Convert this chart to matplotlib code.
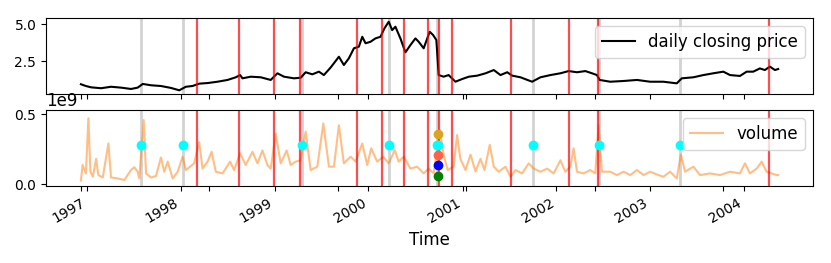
import numpy as np
import pandas as pd
import matplotlib
matplotlib.use('Agg')
import matplotlib.pyplot as plt
import matplotlib.dates as mdates
from matplotlib.ticker import FixedLocator

plt.rcParams['font.size'] = 12

# closing price (decimal year, price)
price_t = [1996.936, 1996.989, 1997.043, 1997.149, 1997.255, 1997.362, 1997.468, 1997.539,
           1997.593, 1997.681, 1997.787, 1997.894, 1997.982, 1998.053, 1998.124, 1998.195,
           1998.284, 1998.390, 1998.497, 1998.585, 1998.631, 1998.656, 1998.745, 1998.851,
           1998.957, 1999.029, 1999.099, 1999.205, 1999.277, 1999.330, 1999.401, 1999.471,
           1999.524, 1999.596, 1999.684, 1999.737, 1999.790, 1999.844, 1999.897, 1999.933,
           1999.968, 2000.021, 2000.074, 2000.128, 2000.170, 2000.216, 2000.252, 2000.287,
           2000.340, 2000.394, 2000.447, 2000.500, 2000.535, 2000.588, 2000.652, 2000.688,
           2000.723, 2000.748, 2000.801, 2000.854, 2000.926, 2000.997, 2001.067, 2001.156,
           2001.245, 2001.333, 2001.404, 2001.476, 2001.529, 2001.617, 2001.741, 2001.830,
           2001.936, 2002.043, 2002.131, 2002.220, 2002.309, 2002.380, 2002.433, 2002.461,
           2002.574, 2002.716, 2002.859, 2003.000, 2003.141, 2003.284, 2003.337, 2003.461,
           2003.567, 2003.673, 2003.780, 2003.851, 2003.957, 2004.029, 2004.099, 2004.170,
           2004.223, 2004.277, 2004.330, 2004.365]
price = [0.93, 0.81, 0.72, 0.66, 0.76, 0.70, 0.61, 0.70,
         0.95, 0.86, 0.81, 0.68, 0.52, 0.76, 0.81, 0.97,
         1.01, 1.10, 1.22, 1.40, 1.55, 1.33, 1.44, 1.40,
         1.22, 1.67, 1.44, 1.33, 1.37, 1.74, 1.60, 1.78,
         1.55, 2.06, 2.79, 2.23, 2.68, 3.36, 3.47, 4.14,
         3.70, 3.80, 4.03, 4.14, 4.71, 5.16, 4.59, 4.82,
         4.03, 3.09, 3.58, 4.03, 3.80, 3.36, 4.48, 4.26,
         3.92, 1.55, 1.44, 1.55, 1.10, 1.28, 1.44, 1.51,
         1.67, 1.89, 1.55, 1.74, 1.51, 1.40, 1.10, 1.40,
         1.55, 1.67, 1.82, 1.74, 1.82, 1.67, 1.55, 1.22,
         1.10, 1.15, 1.22, 1.10, 1.10, 0.99, 1.33, 1.40,
         1.55, 1.67, 1.78, 1.55, 1.49, 1.78, 1.78, 2.00,
         1.89, 2.12, 1.89, 1.96]

# trading volume (decimal year, shares in 1e9)
vol_t = [1996.936, 1996.954, 1996.989, 1997.014, 1997.035, 1997.061, 1997.096, 1997.120,
         1997.167, 1997.227, 1997.255, 1997.327, 1997.397, 1997.468, 1997.503, 1997.539,
         1997.556, 1997.603, 1997.628, 1997.681, 1997.734, 1997.787, 1997.822, 1997.859,
         1997.912, 1997.965, 1998.018, 1998.053, 1998.099, 1998.141, 1998.195, 1998.231,
         1998.284, 1998.327, 1998.372, 1998.444, 1998.524, 1998.567, 1998.631, 1998.691,
         1998.763, 1998.816, 1998.869, 1998.922, 1998.957, 1999.011, 1999.064, 1999.128,
         1999.170, 1999.223, 1999.277, 1999.330, 1999.383, 1999.454, 1999.518, 1999.578,
         1999.631, 1999.684, 1999.737, 1999.809, 1999.862, 1999.933, 1999.986, 2000.029,
         2000.093, 2000.156, 2000.216, 2000.280, 2000.322, 2000.376, 2000.447, 2000.518,
         2000.588, 2000.641, 2000.695, 2000.759, 2000.801, 2000.844, 2000.907, 2000.944,
         2000.979, 2001.032, 2001.085, 2001.138, 2001.191, 2001.234, 2001.290, 2001.333,
         2001.386, 2001.457, 2001.511, 2001.564, 2001.635, 2001.705, 2001.759, 2001.830,
         2001.901, 2001.971, 2002.043, 2002.096, 2002.149, 2002.184, 2002.220, 2002.290,
         2002.362, 2002.415, 2002.450, 2002.486, 2002.574, 2002.646, 2002.716, 2002.787,
         2002.859, 2002.929, 2003.000, 2003.088, 2003.141, 2003.213, 2003.284, 2003.327,
         2003.372, 2003.461, 2003.532, 2003.638, 2003.745, 2003.851, 2003.957, 2004.011,
         2004.064, 2004.135, 2004.189, 2004.241, 2004.295, 2004.348, 2004.365]
vol = [0.024, 0.136, 0.076, 0.470, 0.090, 0.052, 0.180, 0.064,
       0.047, 0.290, 0.047, 0.040, 0.029, 0.100, 0.120, 0.088,
       0.040, 0.457, 0.076, 0.047, 0.057, 0.190, 0.088, 0.160,
       0.040, 0.088, 0.195, 0.100, 0.124, 0.148, 0.300, 0.110,
       0.160, 0.230, 0.088, 0.076, 0.160, 0.100, 0.220, 0.136,
       0.230, 0.148, 0.240, 0.136, 0.110, 0.360, 0.148, 0.240,
       0.136, 0.160, 0.170, 0.374, 0.100, 0.124, 0.433, 0.124,
       0.124, 0.420, 0.148, 0.195, 0.160, 0.290, 0.136, 0.255,
       0.160, 0.195, 0.148, 0.243, 0.160, 0.195, 0.110, 0.124,
       0.076, 0.110, 0.076, 0.386, 0.207, 0.100, 0.124, 0.350,
       0.180, 0.100, 0.210, 0.090, 0.180, 0.100, 0.280, 0.124,
       0.088, 0.124, 0.052, 0.100, 0.076, 0.148, 0.110, 0.088,
       0.110, 0.076, 0.170, 0.088, 0.124, 0.255, 0.088, 0.076,
       0.100, 0.076, 0.420, 0.088, 0.088, 0.064, 0.088, 0.064,
       0.100, 0.064, 0.088, 0.064, 0.052, 0.088, 0.040, 0.210,
       0.088, 0.124, 0.064, 0.076, 0.064, 0.088, 0.076, 0.148,
       0.076, 0.110, 0.160, 0.088, 0.076, 0.064, 0.064]

# detected change points
red_events = [1998.170, 1998.624, 1998.993, 1999.269, 1999.880, 2000.146, 2000.383,
              2000.635, 2000.752, 2000.886, 2001.521, 2002.135, 2002.444, 2004.269]
gray_events = [1997.574, 1998.018, 1999.287, 2000.223, 2000.731, 2001.748, 2002.457, 2003.319]
marker_level = 0.28  # 1e9, level of the cyan markers
stack_t = 2000.737
stack_vals = [0.355, 0.28, 0.207, 0.133, 0.057]
stack_colors = ['goldenrod', 'cyan', 'tomato', 'blue', 'green']


def to_dates(years):
    out = []
    for v in years:
        y = int(np.floor(v))
        out.append(pd.Timestamp(year=y, month=1, day=1) + pd.Timedelta(days=(v - y) * 365.25))
    return pd.DatetimeIndex(out)


fig = plt.figure(figsize=(8.31, 2.63), dpi=100)
ax1 = fig.add_axes([0.0554, 0.6426, 0.923, 0.289])
ax2 = fig.add_axes([0.0554, 0.2928, 0.923, 0.289], sharex=ax1)

price_d = to_dates(price_t)
vol_d = to_dates(vol_t)

ax1.plot(price_d, price, color='black', lw=1.5, label='daily closing price')
ax2.plot(vol_d, np.array(vol) * 1e9, color='C1', alpha=0.5, lw=1.5, label='volume')

for ax in (ax1, ax2):
    for d in to_dates(gray_events):
        ax.axvline(d, color='lightgray', lw=2, zorder=0)
    for d in to_dates(red_events):
        ax.axvline(d, color='red', alpha=0.7, lw=1.6)

gd = to_dates(gray_events)
ax2.plot(gd, [marker_level * 1e9] * len(gd), 'o', color='cyan', ms=6, zorder=5)
sd = to_dates([stack_t] * len(stack_vals))
for d, v, c in zip(sd, stack_vals, stack_colors):
    ax2.plot(d, v * 1e9, 'o', color=c, ms=6, zorder=5)

ax1.set_ylim(0.27, 5.41)
ax1.set_yticks([2.5, 5.0])
ax2.set_ylim(-0.014e9, 0.529e9)
ax2.set_yticks([0.0, 0.5e9])
ax2.ticklabel_format(axis='y', style='sci', scilimits=(9, 9))

ax2.xaxis.set_major_locator(mdates.YearLocator())
ax2.xaxis.set_major_formatter(mdates.DateFormatter('%Y'))
# extra ticks every 500 days from the first sample
minor = pd.date_range(price_d[0], periods=6, freq='500D')
ax2.xaxis.set_minor_locator(FixedLocator(mdates.date2num(minor)))
for ax in (ax1, ax2):
    ax.tick_params(axis='both', which='major', labelsize=10)
    ax.tick_params(axis='x', which='minor', length=3.5, width=0.8)
plt.setp(ax1.get_xticklabels(), visible=False)
plt.setp(ax2.get_xticklabels(), rotation=30, ha='right')
ax2.yaxis.get_offset_text().set_fontsize(12)

ax1.legend(loc='upper right', fontsize=12)
ax2.legend(loc='upper right', fontsize=12)
ax2.set_xlabel('Time', fontsize=12)

fig.savefig('out.png', dpi=100)
